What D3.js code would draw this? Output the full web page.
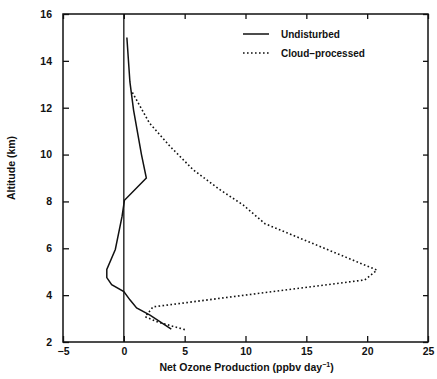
<!DOCTYPE html>
<html>
<head>
<meta charset="utf-8">
<script src="https://cdn.jsdelivr.net/npm/d3@7"></script>
<style>
  body { margin: 0; background: #fff; }
  text { font-family: "Liberation Sans", Arial, sans-serif; font-weight: bold; fill: #111; }
</style>
</head>
<body>
<div id="chart"></div>
<script>
// values
const undisturbedX   = [0.25, 0.5, 0.8, 1.45, 1.85, 0.05, -0.15, -0.7, -1.4, -1.4, -1.0, 0, 0.5, 1.05, 2.15, 3.9];
const undisturbedAlt = [15.0, 13.1, 11.9, 10.0, 9.0, 8.05, 7.35, 5.95, 5.1, 4.75, 4.45, 4.15, 3.8, 3.45, 3.15, 2.55];
const cloudX   = [0.7, 2.1, 3.8, 5.7, 7.9, 9.8, 11.6, 20.8, 19.8, 2.4, 1.75, 2.8, 5.2];
const cloudAlt = [12.65, 11.35, 10.35, 9.35, 8.5, 7.85, 7.05, 5.07, 4.65, 3.5, 3.08, 2.85, 2.5];
const xTicks = [-5, 0, 5, 10, 15, 20, 25];
const yTicks = [2, 4, 6, 8, 10, 12, 14, 16];

const width = 437, height = 379;
const margin = { top: 14, right: 9, bottom: 37, left: 63 };
const w = width - margin.left - margin.right;
const h = height - margin.top - margin.bottom;

const svg = d3.select('#chart').append('svg')
    .attr('width', width)
    .attr('height', height);
const g = svg.append('g')
    .attr('transform', `translate(${margin.left},${margin.top})`);

const x = d3.scaleLinear().domain([-5, 25]).range([0, w]);
const y = d3.scaleLinear().domain([2, 16]).range([h, 0]);

// axes, ticks pointing inwards
function styleAxis(sel) {
    sel.select('.domain').remove();
    sel.selectAll('line').attr('stroke', '#111').attr('stroke-width', 1.3);
    sel.selectAll('text').style('font-size', '10.5px');
}
g.append('g').attr('transform', `translate(0,${h})`)
    .call(d3.axisBottom(x).tickValues(xTicks).tickSizeInner(-6).tickSizeOuter(0).tickPadding(6).tickFormat(d3.format('d')))
    .call(styleAxis);
g.append('g')
    .call(d3.axisTop(x).tickValues(xTicks).tickSizeInner(-5).tickSizeOuter(0).tickFormat(''))
    .call(styleAxis);
g.append('g')
    .call(d3.axisLeft(y).tickValues(yTicks).tickSizeInner(-6).tickSizeOuter(0).tickPadding(11))
    .call(styleAxis);
g.append('g').attr('transform', `translate(${w},0)`)
    .call(d3.axisRight(y).tickValues(yTicks).tickSizeInner(-5).tickSizeOuter(0).tickFormat(''))
    .call(styleAxis);

// frame
g.append('rect')
    .attr('width', w).attr('height', h)
    .attr('fill', 'none').attr('stroke', '#111').attr('stroke-width', 1.5);

// zero line
g.append('line')
    .attr('x1', x(0)).attr('x2', x(0))
    .attr('y1', 0).attr('y2', h)
    .attr('stroke', '#111').attr('stroke-width', 1.3);

const line = d3.line().x(d => x(d[0])).y(d => y(d[1]));

g.append('path')
    .datum(undisturbedX.map((v, i) => [v, undisturbedAlt[i]]))
    .attr('d', line)
    .attr('fill', 'none').attr('stroke', '#111').attr('stroke-width', 1.5);

g.append('path')
    .datum(cloudX.map((v, i) => [v, cloudAlt[i]]))
    .attr('d', line)
    .attr('fill', 'none').attr('stroke', '#111').attr('stroke-width', 1.6)
    .attr('stroke-dasharray', '1.6,2.4');

// legend
const legend = g.append('g').attr('transform', 'translate(180,20)');
legend.append('line').attr('x1', 0).attr('x2', 26).attr('y1', 0).attr('y2', 0)
    .attr('stroke', '#111').attr('stroke-width', 1.5);
legend.append('line').attr('x1', 0).attr('x2', 26).attr('y1', 19).attr('y2', 19)
    .attr('stroke', '#111').attr('stroke-width', 1.6).attr('stroke-dasharray', '1.6,2.4');
legend.append('text').attr('x', 38).attr('y', 4).style('font-size', '10px').text('Undisturbed');
legend.append('text').attr('x', 38).attr('y', 23).style('font-size', '10px').text('Cloud\u2013processed');

// axis titles
const xt = svg.append('text')
    .attr('x', margin.left + w / 2 + 1)
    .attr('y', height - 8)
    .attr('text-anchor', 'middle')
    .style('font-size', '10.5px');
xt.append('tspan').text('Net Ozone Production (ppbv day');
xt.append('tspan').attr('dy', -4).style('font-size', '7px').text('\u22121');
xt.append('tspan').attr('dy', 4).text(')');

svg.append('text')
    .attr('transform', `translate(15,${margin.top + h / 2 - 10}) rotate(-90)`)
    .attr('text-anchor', 'middle')
    .style('font-size', '10.5px')
    .text('Altitude  (km)');
</script>
</body>
</html>
